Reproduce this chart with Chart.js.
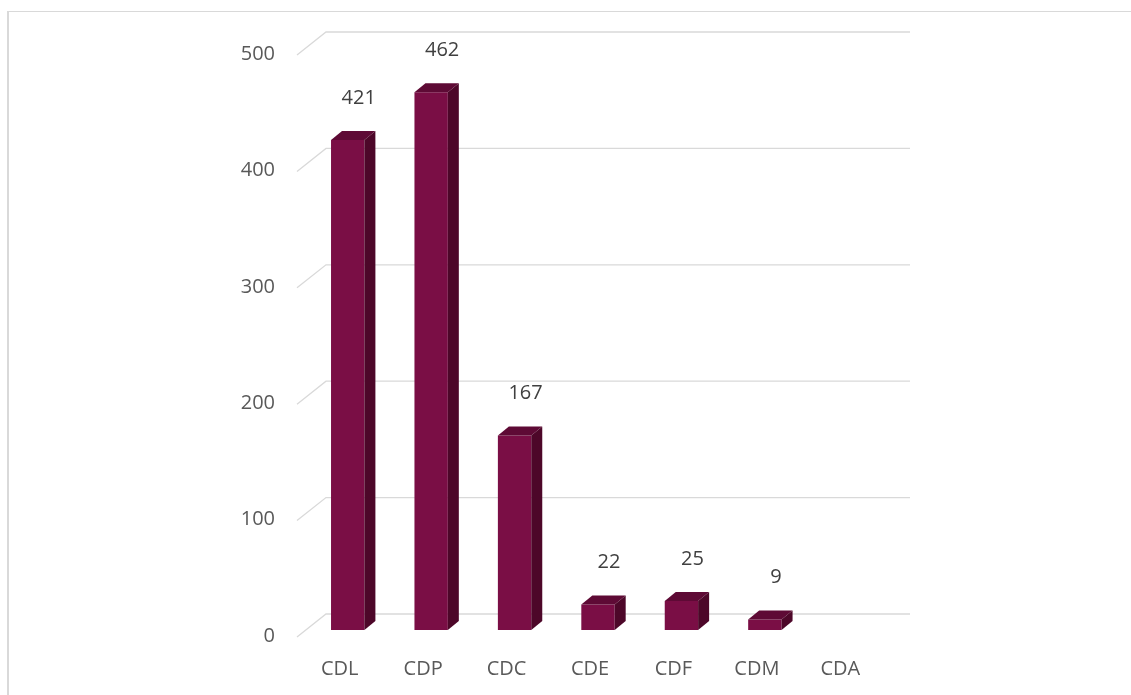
<!DOCTYPE html>
<html>
<head>
<meta charset="utf-8">
<script src="https://cdn.jsdelivr.net/npm/chart.js@4/dist/chart.umd.min.js"></script>
<style>
    body { margin: 0; background: #ffffff; }
    #wrap { position: relative; width: 1131px; height: 695px; overflow: hidden; }
    #frame {
        position: absolute; left: 7px; top: 11px; width: 1300px; height: 900px;
        border-left: 2px solid #d9d9d9; border-top: 1px solid #d9d9d9;
    }
    canvas { position: absolute; left: 0; top: 0; }
</style>
</head>
<body>
<div id="wrap">
    <div id="frame"></div>
    <canvas id="chart" width="1131" height="695"></canvas>
</div>
<script>
// --- Dados do gráfico ---
const categorias = ['CDL', 'CDP', 'CDC', 'CDE', 'CDF', 'CDM', 'CDA'];
const valores = [421, 462, 167, 22, 25, 9, null];
const ticksY = [0, 100, 200, 300, 400, 500];

// Cores das faces das barras
const corFrente = '#7a0e45';
const corLado = '#4d0729';
const corTopo = '#5e0a35';
const corGrade = '#d9d9d9';

// Profundidade da barra e do "piso" 3D
const barraDx = 11, barraDy = 9;
const fundoDx = 20, fundoDy = 16;
const frenteDx = -9, frenteDy = 7;

/**
 * Desenha a grade no plano de fundo e as linhas diagonais do piso/parede.
 */
const gradePlugin = {
    id: 'grade3d',
    beforeDatasetsDraw(chart) {
        const { ctx, chartArea, scales } = chart;
        ctx.save();
        ctx.strokeStyle = corGrade;
        ctx.lineWidth = 1.3;
        for (const v of ticksY) {
            const y = scales.y.getPixelForValue(v);
            ctx.beginPath();
            ctx.moveTo(chartArea.left + frenteDx, y + frenteDy);
            ctx.lineTo(chartArea.left + fundoDx, y - fundoDy);
            ctx.lineTo(chartArea.right + fundoDx, y - fundoDy);
            ctx.stroke();
        }
        ctx.restore();
    }
};

/**
 * Desenha o topo e a lateral das barras, e os rótulos de valor.
 */
const barras3dPlugin = {
    id: 'barras3d',
    afterDatasetsDraw(chart) {
        const { ctx } = chart;
        const meta = chart.getDatasetMeta(0);
        ctx.save();
        meta.data.forEach((bar, i) => {
            const v = valores[i];
            if (v === null || v === undefined) return;
            const { x, y, base, width } = bar.getProps(['x', 'y', 'base', 'width'], true);
            const esq = x - width / 2, dir = x + width / 2;

            // topo
            ctx.fillStyle = corTopo;
            ctx.beginPath();
            ctx.moveTo(esq, y);
            ctx.lineTo(esq + barraDx, y - barraDy);
            ctx.lineTo(dir + barraDx, y - barraDy);
            ctx.lineTo(dir, y);
            ctx.closePath();
            ctx.fill();

            // lateral
            ctx.fillStyle = corLado;
            ctx.beginPath();
            ctx.moveTo(dir, y);
            ctx.lineTo(dir + barraDx, y - barraDy);
            ctx.lineTo(dir + barraDx, base - barraDy);
            ctx.lineTo(dir, base);
            ctx.closePath();
            ctx.fill();

            // rótulo
            ctx.fillStyle = '#404040';
            ctx.font = '20px "Open Sans"';
            ctx.textAlign = 'center';
            ctx.textBaseline = 'middle';
            ctx.fillText(String(v), x + 11, y - 42);
        });
        ctx.restore();
    }
};

new Chart(document.getElementById('chart'), {
    type: 'bar',
    data: {
        labels: categorias,
        datasets: [{
            data: valores,
            backgroundColor: corFrente,
            borderWidth: 0,
            barPercentage: 0.4,
            categoryPercentage: 1
        }]
    },
    options: {
        responsive: false,
        animation: false,
        events: [],
        layout: { padding: { top: 48, right: 241, bottom: 0, left: 0 } },
        plugins: {
            legend: { display: false },
            tooltip: { enabled: false }
        },
        scales: {
            x: {
                grid: { display: false, drawTicks: false },
                border: { display: false },
                ticks: {
                    color: '#595959',
                    font: { family: 'Open Sans', size: 20 },
                    padding: 27,
                    labelOffset: -8
                },
                afterFit: s => { s.height = 65; }
            },
            y: {
                min: 0,
                max: 500,
                grid: { display: false, drawTicks: false },
                border: { display: false },
                ticks: {
                    stepSize: 100,
                    color: '#595959',
                    font: { family: 'Open Sans', size: 20 },
                    padding: 31,
                    labelOffset: 6
                },
                afterFit: s => { s.width = 306; }
            }
        }
    },
    plugins: [gradePlugin, barras3dPlugin]
});
</script>
</body>
</html>
